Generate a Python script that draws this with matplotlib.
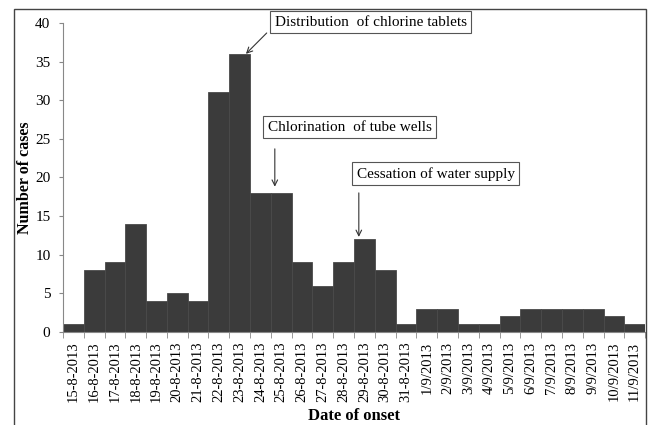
import matplotlib.pyplot as plt
import matplotlib.patches as patches
import numpy as np
import matplotlib
matplotlib.rcParams['font.family'] = ['Liberation Serif', 'DejaVu Serif']

# 发病日期与病例数
dates = ['15-8-2013', '16-8-2013', '17-8-2013', '18-8-2013', '19-8-2013', '20-8-2013',
         '21-8-2013', '22-8-2013', '23-8-2013', '24-8-2013', '25-8-2013', '26-8-2013',
         '27-8-2013', '28-8-2013', '29-8-2013', '30-8-2013', '31-8-2013', '1/9/2013',
         '2/9/2013', '3/9/2013', '4/9/2013', '5/9/2013', '6/9/2013', '7/9/2013',
         '8/9/2013', '9/9/2013', '10/9/2013', '11/9/2013']
cases = [1, 8, 9, 14, 4, 5, 4, 31, 36, 18, 18, 9, 6, 9, 12, 8, 1, 3, 3, 1, 1, 2, 3, 3, 3, 3, 2, 1]

# 干预措施标注: 文本及位置, 箭头起点和终点
events = ['Distribution  of chlorine tablets', 'Chlorination  of tube wells', 'Cessation of water supply']
event_text = [(9.69, 40.1), (9.36, 26.5), (13.63, 20.45)]
arrow_start = [(9.3, 38.7), (9.69, 23.7), (13.73, 18.0)]
arrow_end = [(8.3, 36.0), (9.69, 18.8), (13.73, 12.3)]

fig = plt.figure(figsize=(6.49, 4.25), dpi=100)
ax = fig.add_axes([0.097, 0.219, 0.897, 0.727])

x = np.arange(len(dates))
ax.bar(x, cases, width=1.0, color='#3b3b3b', edgecolor='#4a4a4a', linewidth=0.6)

ax.set_xlim(-0.5, len(dates) - 0.5)
ax.set_ylim(0, 40)
ax.set_yticks(range(0, 41, 5))
ax.tick_params(axis='y', labelsize=11, length=3, color='#888888', pad=6)
ax.set_xticks(x)
ax.set_xticklabels(dates, rotation=90, fontsize=10.5)
ax.tick_params(axis='x', length=0, pad=7)
ax.set_xticks(np.arange(-0.5, len(dates)), minor=True)
ax.tick_params(axis='x', which='minor', length=4, color='#888888')

for s in ['top', 'right']:
    ax.spines[s].set_visible(False)
ax.spines['left'].set_color('#888888')
ax.spines['bottom'].set_color('#888888')

ax.set_ylabel('Number of cases', fontsize=11.5, fontweight='bold')
ax.yaxis.set_label_coords(-0.052, 0.5)
ax.set_xlabel('Date of onset', fontsize=12, fontweight='bold', labelpad=4)

for txt, pos in zip(events, event_text):
    ax.text(pos[0], pos[1], txt, fontsize=11, ha='left', va='center', clip_on=False,
            bbox=dict(boxstyle='square,pad=0.3', fc='white', ec='#555555', lw=0.8))
for p0, p1 in zip(arrow_start, arrow_end):
    ax.annotate('', xy=p1, xytext=p0, annotation_clip=False,
                arrowprops=dict(arrowstyle='->', color='#333333', lw=0.8,
                                shrinkA=0, shrinkB=0))

# 外框
fig.patches.append(patches.Rectangle((14 / 649, -0.01), 632 / 649, 1 - 9 / 425 + 0.01,
                                     transform=fig.transFigure, fill=False,
                                     edgecolor='#444444', linewidth=1.0))

plt.savefig('out.png', dpi=100)
